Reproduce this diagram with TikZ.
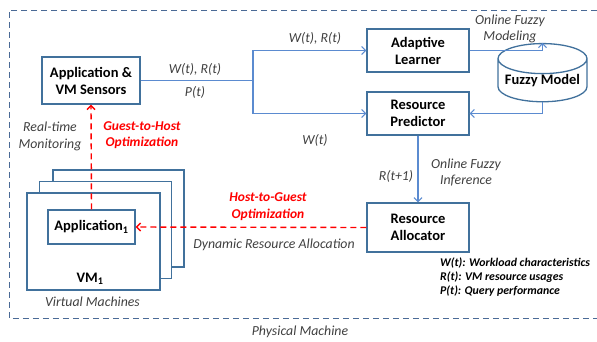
\documentclass[tikz,border=0pt]{standalone}
\usepackage{fontspec}
\setmainfont{Carlito}
\usetikzlibrary{arrows.meta, calc, positioning, shapes.geometric}
\definecolor{boxblue}{HTML}{41719C}
\definecolor{lineblue}{HTML}{5B8BD0}
\definecolor{pmblue}{HTML}{4A6A96}
\definecolor{labelgray}{HTML}{404040}

\begin{document}
\begin{tikzpicture}[x=1pt, y=-1pt,% styles used in image code
          > = {Straight Barb[length=4pt,width=8pt]},
  box/.style = {draw=boxblue, line width=1.3pt, fill=white,
                font=\bfseries\fontsize{14.5}{17}\selectfont,
                align=center, inner sep=0pt},
 flow/.style = {draw=lineblue, line width=1.1pt},
 note/.style = {text=labelgray, align=center,
                font=\itshape\fontsize{13.8}{16.5}\selectfont},
  opt/.style = {text=red, align=center,
                font=\bfseries\itshape\fontsize{13.5}{16.5}\selectfont},
red dash/.style = {draw=red, line width=1.4pt, dash pattern=on 6pt off 4pt}
                    ]
    \useasboundingbox (0,0) rectangle (597,341);

    % physical machine frame (open on the right)
    \draw[pmblue, line width=1pt, dash pattern=on 6pt off 4pt]
        (597,10) -- (9,10) -- (9,318) -- (597,318);
    \node[note] (pmlabel) at (300,332) {Physical Machine};

    % virtual machines, back to front
    \node[box, minimum width=131pt, minimum height=97pt] (vm3) at (118.5,218.5) {};
    \node[box, minimum width=132pt, minimum height=97pt] (vm2) at (105.5,230) {};
    \node[box, minimum width=133pt, minimum height=97pt] (vm1) at (93.5,241.5) {};
    \node[box, minimum width=87pt, minimum height=34pt] (app) at (91.5,227)
        {Application\textsubscript{1}};
    \node[font=\bfseries\fontsize{14.5}{16}\selectfont] (vmlabel) at (90,279)
        {VM\textsubscript{1}};
    \node[note] (vmnote) at (92.5,302) {Virtual Machines};

    % host side components
    \node[box, minimum width=98pt, minimum height=47pt] (sensors) at (91,80.5)
        {Application \&\\VM Sensors};
    \node[box, minimum width=102pt, minimum height=43pt] (learner) at (418,50.5)
        {Adaptive\\Learner};
    \node[box, minimum width=102pt, minimum height=43pt] (predictor) at (418,113.5)
        {Resource\\Predictor};
    \node[box, minimum width=102pt, minimum height=49pt] (allocator) at (418,227.5)
        {Resource\\Allocator};
    \node[box, shape=cylinder, shape border rotate=90, aspect=0.4,
          minimum width=89pt, minimum height=35pt] (fuzzy) at (542.5,80.5)
        {Fuzzy Model};

    % monitoring data flow
    \coordinate (branch) at (253,80.5);
    \draw[flow] (sensors.east) -- (branch);
    \draw[flow,->] (branch) |- (learner.west);
    \draw[flow,->] (branch) |- (predictor.west);
    \draw[flow,->] (learner.east) -| (fuzzy.north);
    \draw[flow,->] (fuzzy.south) |- (predictor.east);
    \draw[flow,->] (predictor.south) -- (allocator.north);

    % optimization paths
    \draw[red dash,->] (app.north) -- (sensors.south);
    \draw[red dash,->] (allocator.west) -- (app.east);

    % labels
    \node[note] (wr1) at (195,69) {W(t), R(t)};
    \node[note] (p1)  at (195,92) {P(t)};
    \node[note] (wr2) at (315,38) {W(t), R(t)};
    \node[note] (w2)  at (315,140) {W(t)};
    \node[note] (model) at (510,29) {Online Fuzzy\\Modeling};
    \node[note] (rnext) at (396,176) {R(t+1)};
    \node[note] (infer) at (466,172.5) {Online Fuzzy\\Inference};
    \node[note] (monitor) at (50,136.5) {Real-time\\Monitoring};
    \node[opt] (g2h) at (142,135) {Guest-to-Host\\Optimization};
    \node[opt] (h2g) at (268,206.5) {Host-to-Guest\\Optimization};
    \node[note] (dyn) at (274,245) {Dynamic Resource Allocation};

    % legend
    \node[anchor=north west, align=left, inner sep=0pt,
          font=\bfseries\itshape\fontsize{11.8}{14}\selectfont] (legend) at (440,258)
        {W(t): Workload characteristics\\
         R(t): VM resource usages\\
         P(t): Query performance};
\end{tikzpicture}
\end{document}
